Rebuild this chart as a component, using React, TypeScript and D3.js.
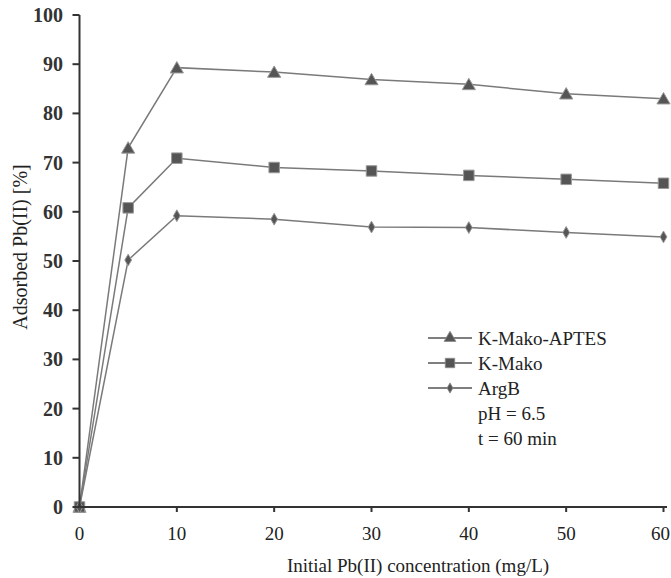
import React from "react";
import * as d3 from "d3";

const xValues = [0, 5, 10, 20, 30, 40, 50, 60];
const aptes = [0, 73, 89.3, 88.4, 86.9, 85.9, 84.0, 83.0];
const mako = [0, 60.8, 70.9, 69.0, 68.3, 67.4, 66.6, 65.8];
const argB = [0, 50.2, 59.2, 58.5, 56.9, 56.8, 55.8, 54.9];
const xTicks = [0, 10, 20, 30, 40, 50, 60];
const yTicks = [0, 10, 20, 30, 40, 50, 60, 70, 80, 90, 100];
const seriesNames = ["K-Mako-APTES", "K-Mako", "ArgB"];
const notes = ["pH = 6.5", "t = 60 min"];

const W = 671, H = 578;
const FONT = "'Liberation Serif', 'Times New Roman', serif";

export default function App() {
  const x = d3.scaleLinear().domain([0, 60]).range([79.5, 663.5]);
  const y = d3.scaleLinear().domain([0, 100]).range([507, 15]);
  const line = d3.line<number>().x((_, i) => x(xValues[i])).y((d) => y(d));
  const series = [aptes, mako, argB];
  const shapes = [d3.symbolTriangle, d3.symbolSquare, d3.symbolDiamond];
  const sizes = [75, 110, 40];
  const sym = (i: number) => d3.symbol().type(shapes[i]).size(sizes[i])() as string;

  return (
    <svg width={W} height={H} style={{ position: "absolute", left: 0, top: 0 }} fontFamily={FONT}>
      <rect width={W} height={H} fill="#fff" />
      {series.map((s, i) => (
        <path key={i} d={line(s) as string} fill="none" stroke="#7a7a7a" strokeWidth={1.5} />
      ))}
      {series.map((s, i) =>
        s.map((v, j) => (
          <path key={`${i}-${j}`} d={sym(i)} transform={`translate(${x(xValues[j])},${y(v) + (i === 0 ? 1.5 : 0)})`}
            fill="#555" stroke="#999" strokeWidth={1} />
        ))
      )}
      <line x1={x(0)} x2={x(0)} y1={y(100)} y2={y(0)} stroke="#333" strokeWidth={2} />
      <line x1={x(0)} x2={667} y1={y(0)} y2={y(0)} stroke="#333" strokeWidth={2} />
      {yTicks.map((t) => (
        <g key={t}>
          <line x1={x(0) - 7} x2={x(0)} y1={y(t)} y2={y(t)} stroke="#333" strokeWidth={2} />
          <text x={63} y={y(t)} dy="0.35em" textAnchor="end" fontSize={20} fontWeight="bold" fill="#333">{t}</text>
        </g>
      ))}
      {xTicks.map((t) => (
        <g key={t}>
          {t > 0 && <line x1={x(t)} x2={x(t)} y1={y(0)} y2={y(0) + 5} stroke="#333" strokeWidth={2} />}
          <text x={t === 60 ? 670 : x(t)} y={540} textAnchor={t === 60 ? "end" : "middle"} fontSize={19} fill="#222">{t}</text>
        </g>
      ))}
      <text x={418} y={572} textAnchor="middle" fontSize={19} fill="#222">Initial Pb(II) concentration (mg/L)</text>
      <text transform={`translate(27,247) rotate(-90)`} textAnchor="middle" fontSize={20} fill="#222">Adsorbed Pb(II) [%]</text>
      {seriesNames.map((n, i) => {
        const ly = 338 + i * 25;
        return (
          <g key={n}>
            <line x1={428} x2={472} y1={ly} y2={ly} stroke="#555" strokeWidth={1.5} />
            <path d={d3.symbol().type(shapes[i]).size(i === 2 ? 30 : sizes[i] * 0.8)() as string}
              transform={`translate(450,${ly})`} fill="#555" stroke="#888" strokeWidth={0.8} />
            <text x={478} y={ly} dy="0.35em" fontSize={19} fill="#222">{n}</text>
          </g>
        );
      })}
      {notes.map((n, i) => (
        <text key={n} x={478} y={413 + i * 25} dy="0.35em" fontSize={19} fill="#222">{n}</text>
      ))}
    </svg>
  );
}
